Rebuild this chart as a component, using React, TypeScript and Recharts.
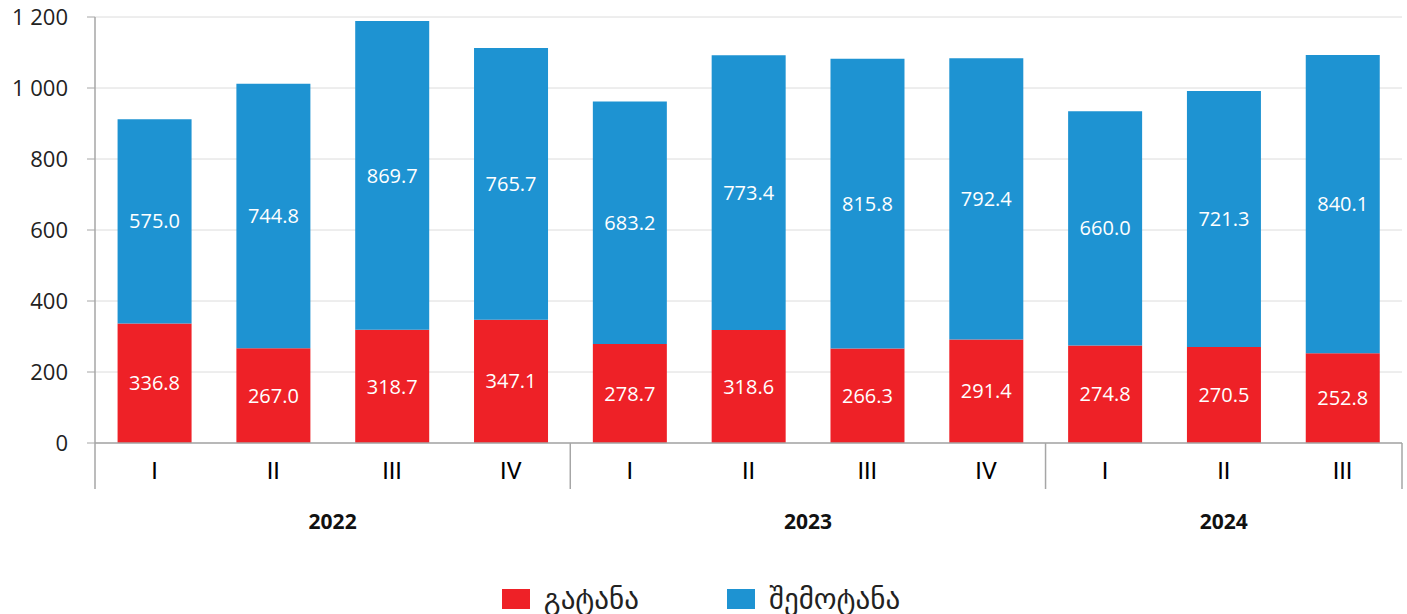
import { BarChart, Bar, XAxis, YAxis, CartesianGrid, LabelList, Legend } from 'recharts'

const quarters = ['I', 'II', 'III', 'IV', 'I', 'II', 'III', 'IV', 'I', 'II', 'III']
const years = ['2022', '2022', '2022', '2022', '2023', '2023', '2023', '2023', '2024', '2024', '2024']
const exports = [336.8, 267.0, 318.7, 347.1, 278.7, 318.6, 266.3, 291.4, 274.8, 270.5, 252.8]
const imports = [575.0, 744.8, 869.7, 765.7, 683.2, 773.4, 815.8, 792.4, 660.0, 721.3, 840.1]
const yTicks = [0, 200, 400, 600, 800, 1000, 1200]

const RED = '#EE2127'
const BLUE = '#1E93D2'
const FONT = '"Open Sans", "DejaVu Sans", sans-serif'

const W = 1407
const H = 614
const LEFT = 95
const RIGHT = 1402
const BAND = (RIGHT - LEFT) / quarters.length

const data = quarters.map((q, i) => ({
  key: `${years[i]}-${q}`,
  q,
  year: years[i],
  exp: exports[i],
  imp: imports[i],
}))

const fmtThousands = (v: number) => String(v).replace(/\B(?=(\d{3})+(?!\d))/g, ' ')

function QuarterTick(props: any) {
  const { x, y, index } = props
  const d = data[index]
  if (!d) return null
  const first = index === 0 || data[index - 1].year !== d.year
  const groupSize = data.filter(r => r.year === d.year).length
  const last = index === data.length - 1
  return (
    <g>
      <text x={x} y={y + 28} textAnchor="middle" dominantBaseline="central"
        fontSize={24} fontWeight={400} fontFamily="Roboto, sans-serif" fill="#000">{d.q}</text>
      {first && (
        <>
          <line x1={x - BAND / 2} x2={x - BAND / 2} y1={y} y2={y + 46} stroke="#A6A6A6" strokeWidth={1.5} />
          <text x={x - BAND / 2 + (groupSize * BAND) / 2} y={y + 78} textAnchor="middle" dominantBaseline="central"
            fontSize={21} fontWeight={700} fontFamily={FONT} fill="#111">{d.year}</text>
        </>
      )}
      {last && <line x1={x + BAND / 2} x2={x + BAND / 2} y1={y} y2={y + 46} stroke="#A6A6A6" strokeWidth={1.5} />}
    </g>
  )
}

function LegendBox() {
  const items = [
    { name: 'გატანა', color: RED },
    { name: 'შემოტანა', color: BLUE },
  ]
  return (
    <div style={{ display: 'flex', justifyContent: 'center', gap: 88, paddingTop: 26 }}>
      {items.map(it => (
        <div key={it.name} style={{ display: 'flex', alignItems: 'center' }}>
          <span style={{ width: 28, height: 20, background: it.color, display: 'inline-block', marginRight: 14 }} />
          <span style={{ fontFamily: '"DejaVu Sans", sans-serif', fontSize: 29, color: '#222', lineHeight: '20px' }}>{it.name}</span>
        </div>
      ))}
    </div>
  )
}

export default function App() {
  return (
    <div style={{ position: 'absolute', left: 0, top: 0, width: W, height: H, background: '#fff' }}>
      <BarChart width={W} height={H} data={data} barCategoryGap="19%"
        margin={{ top: 17, right: W - RIGHT, left: 0, bottom: 0 }}>
        <CartesianGrid vertical={false} stroke="#DCDCDC" />
        <XAxis dataKey="key" interval={0} tickSize={0} tickMargin={0} height={120}
          axisLine={{ stroke: '#A6A6A6', strokeWidth: 1.5 }} tick={<QuarterTick />} />
        <YAxis width={LEFT} domain={[0, 1200]} ticks={yTicks} interval={0} tickSize={8} tickMargin={19}
          axisLine={{ stroke: '#A6A6A6', strokeWidth: 1.5 }} tickLine={{ stroke: '#A6A6A6' }}
          tickFormatter={fmtThousands}
          tick={{ fontSize: 22, fontFamily: FONT, fill: '#222' }} />
        <Legend verticalAlign="bottom" height={51} content={<LegendBox />} />
        <Bar dataKey="exp" name="გატანა" stackId="a" fill={RED} isAnimationActive={false}>
          <LabelList dataKey="exp" position="center" fill="#fff" fontSize={20} fontFamily={FONT}
            formatter={(v: any) => Number(v).toFixed(1)} />
        </Bar>
        <Bar dataKey="imp" name="შემოტანა" stackId="a" fill={BLUE} isAnimationActive={false}>
          <LabelList dataKey="imp" position="center" fill="#fff" fontSize={20} fontFamily={FONT}
            formatter={(v: any) => Number(v).toFixed(1)} />
        </Bar>
      </BarChart>
    </div>
  )
}
